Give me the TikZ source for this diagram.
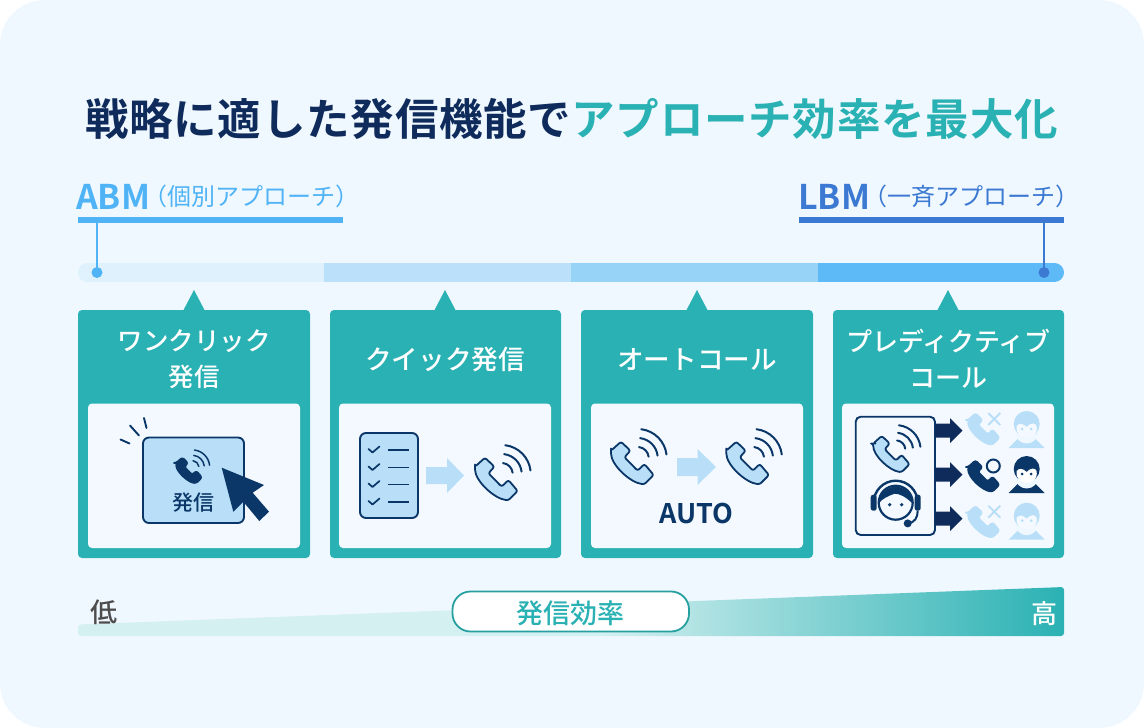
\documentclass[tikz,border=0pt]{standalone}
\usepackage{fontspec}
\setmainfont{Noto Sans CJK JP Medium}
\setsansfont{Noto Sans CJK JP}
\newfontfamily\jpb{Noto Sans CJK JP Bold}
\newfontfamily\jpr{Noto Sans CJK JP}
\definecolor{pagebg}{HTML}{F0F8FF}
\definecolor{teal}{HTML}{2AB1B3}
\definecolor{navy}{HTML}{0B3768}
\definecolor{titlenavy}{HTML}{0F2B5B}
\definecolor{lightblue}{HTML}{B8DFF7}
\definecolor{panelbg}{HTML}{F4F9FF}
\definecolor{abmblue}{HTML}{4FB3F6}
\definecolor{lbmblue}{HTML}{3B79D3}
\definecolor{segA}{HTML}{DFF1FC}
\definecolor{segB}{HTML}{BBE1FA}
\definecolor{segC}{HTML}{97D2F7}
\definecolor{segD}{HTML}{5EBAF6}
\definecolor{wedgelight}{HTML}{D5F0F0}
\definecolor{lowgray}{HTML}{4D4D4D}
\tikzset{
  cardbox/.style={fill=teal,rounded corners=4pt},
  panelbox/.style={fill=panelbg,rounded corners=4pt},
  cardtext/.style={text=white,font=\fontsize{26.6}{36}\selectfont,align=center,inner sep=0pt,anchor=center},
  iconline/.style={navy,line width=1.9pt,line cap=round},
  softarrow/.style={fill=lightblue},
  darkarrow/.style={fill=titlenavy},
  headtext/.style={inner sep=0pt,anchor=base west},
  subtext/.style={font=\jpr\fontsize{24}{28}\selectfont},
  abbr/.style={font=\jpb\fontsize{34}{38}\selectfont},
}
% handset: x, y, scale, fill, stroke
\newcommand\handset[5]{%
  \begin{scope}[shift={(#1,#2)},scale=#3]
    \path[fill=#4,draw=#5,line width=1.8pt,line join=round,rounded corners=2.2pt]
      (-21.7,-12.3) -- (-11.7,-21.3) -- (-2.3,-12.3) -- (-8.3,-5.7) -- (5,7.7) -- (11.7,1) -- (21,12) -- (11.7,21.3)
      .. controls (-2,20) and (-22,2) .. cycle;
  \end{scope}}
% signal waves: x, y, scale, colour, width
\newcommand\callwaves[5]{%
  \begin{scope}[shift={(#1,#2)},scale=#3]
    \foreach \wr in {11,20,29}{
      \draw[#4,line width=#5,line cap=round] ($(5,-5)+(-83:\wr)$) arc[start angle=-83,end angle=-7,radius=\wr];
    }
  \end{scope}}
% person: x, y, hair colour, face colour, eye colour
\newcommand\personicon[5]{%
  \begin{scope}[shift={(#1,#2)}]
    \fill[#3] (-18,18) -- (-8,8) -- (8,8) -- (18,18) -- cycle;
    \fill[pagebg] (0,2) circle[radius=11.5];
    \fill[#3] (0,-6) circle[radius=13];
    \fill[#4] (0,-3) .. controls (5,-8) and (8,-7) .. (10,-4) .. controls (11,5) and (5,8) .. (0,8) .. controls (-5,8) and (-11,5) .. (-10,-4) .. controls (-8,-7) and (-4,-7) .. (0,-3);
    \fill[#5] (-4.5,-1) circle[radius=1.5] (4.5,-1) circle[radius=1.5];
  \end{scope}}
\newcommand\crossmark[3]{%
  \draw[#3,line width=1.9pt] (#1-6,#2-6) -- (#1+6,#2+6) (#1+6,#2-6) -- (#1-6,#2+6);}
\usetikzlibrary{calc}
\begin{document}
\begin{tikzpicture}[x=1pt,y=-1pt]
\useasboundingbox (0,0) rectangle (1144,728);
\fill[white] (0,0) rectangle (1144,728);
\fill[pagebg,rounded corners=45pt] (0,0) rectangle (1144,728);

% title
\node[inner sep=0pt,anchor=base,font=\jpb\fontsize{43.5}{50}\selectfont,text=titlenavy] (title) at (571.5,135)
  {\addfontfeature{LetterSpace=1.8}戦略に適した発信機能で\textcolor{teal}{アプローチ効率を最大化}};

% approach headings
\node[headtext,abbr,text=abmblue] (abm) at (76,209) {ABM};
\node[headtext,subtext,text=abmblue] (abmsub) at (143,205) {（個別アプローチ）};
\node[headtext,abbr,text=lbmblue] (lbm) at (798,209) {LBM};
\node[headtext,subtext,text=lbmblue] (lbmsub) at (863,205) {（一斉アプローチ）};
\fill[abmblue] (78,217) rectangle (343,223);
\fill[lbmblue] (799,217) rectangle (1064,223);

% scale bar
\begin{scope}
  \clip[rounded corners=9.5pt] (78,263) rectangle (1064,282);
  \fill[segA] (78,263) rectangle (324,282);
  \fill[segB] (324,263) rectangle (571,282);
  \fill[segC] (571,263) rectangle (818,282);
  \fill[segD] (818,263) rectangle (1064,282);
\end{scope}
\coordinate (abmtop) at (97,222);
\coordinate (abmdot) at (97,272.5);
\coordinate (lbmtop) at (1044,222);
\coordinate (lbmdot) at (1044,272.5);
\draw[abmblue,line width=1.5pt] (abmtop) -- (abmdot);
\fill[abmblue] (abmdot) circle[radius=5.5];
\draw[lbmblue,line width=1.5pt] (lbmtop) -- (lbmdot);
\fill[lbmblue] (lbmdot) circle[radius=5.5];

% cards
\foreach \xa/\xb/\xm in {78/310/194,330/561/445,581/813/697,833/1064/948}{
  \fill[cardbox] (\xa,310) rectangle (\xb,558);
  \fill[teal] (\xm-11,311) -- (\xm,290) -- (\xm+11,311) -- cycle;
}
\foreach \xa/\xb in {88/300,339/551,591/803,842/1054}{
  \fill[panelbox] (\xa,403.5) rectangle (\xb,548);
}
\node[cardtext,font=\fontsize{25.5}{36}\selectfont] (card1) at (194,359) {ワンクリック\\発信};
\node[cardtext] (card2) at (445,359.5) {クイック発信};
\node[cardtext] (card3) at (697,359.5) {オートコール};
\node[cardtext,font=\fontsize{26}{36}\selectfont] (card4) at (948.5,359) {プレディクティブ\\コール};

% icon 1: dial button
\draw[fill=lightblue,draw=navy,line width=1.9pt,rounded corners=6pt] (143,437.5) rectangle (244,523);
\draw[iconline] (120.5,439.5) -- (129.5,443.5) (130,425.5) -- (139,435.5) (144,418) -- (146.5,428);
\handset{189.3}{470.3}{0.6}{navy}{navy}
\callwaves{189.3}{470.3}{0.6}{navy}{1.5pt}
\node[inner sep=0pt,text=navy,font=\fontsize{21}{24}\selectfont] (dial) at (193.5,503) {発信};
\fill[navy] (221.7,467.7) -- (264,485) -- (252.7,492.7) -- (269,511.7) -- (259.3,521) -- (243.3,501.7) -- (233.3,511.7) -- cycle;

% icon 2: list to call
\draw[fill=lightblue,draw=navy,line width=1.9pt,rounded corners=6pt] (360,433) rectangle (418,518);
\foreach \yy in {450,467.5,484.5,502}{
  \draw[navy,line width=1.7pt,line cap=round,line join=round] (368.5,\yy-1) -- (372.5,\yy+2.5) -- (379.5,\yy-3.5);
  \draw[navy,line width=1.7pt] (388,\yy) -- (409,\yy);
}
\fill[softarrow] (426,467) -- (447,467) -- (447,458) -- (464,475.5) -- (447,493) -- (447,484) -- (426,484) -- cycle;
\handset{496.7}{479}{1}{lightblue}{navy}
\callwaves{496.7}{479}{1}{navy}{2pt}

% icon 3: auto call
\handset{632.7}{463}{1}{lightblue}{navy}
\callwaves{632.7}{463}{1}{navy}{2pt}
\fill[softarrow] (677,458) -- (697.5,458) -- (697.5,449) -- (716,467) -- (697.5,485) -- (697.5,476) -- (677,476) -- cycle;
\handset{748}{463}{1}{lightblue}{navy}
\callwaves{748}{463}{1}{navy}{2pt}
\node[inner sep=0pt,text=navy,font=\jpb\fontsize{27}{30}\selectfont] (auto) at (696.5,513.5) {AUTO};

% icon 4: predictive
\draw[fill=panelbg,draw=navy,line width=1.9pt,rounded corners=5pt] (855.7,416.7) rectangle (935,535);
\handset{891.7}{454}{0.85}{lightblue}{navy}
\callwaves{891.7}{454}{0.85}{navy}{2pt}
\begin{scope}[shift={(895.7,502.7)}]
  \fill[panelbg] (0,0) circle[radius=17];
  \draw[navy,line width=2.2pt] (0,0) circle[radius=17];
  \fill[navy] (-17,1) arc[start angle=-180,end angle=0,radius=17] .. controls (10,-6) and (4,-9) .. (-1,-9) .. controls (-7,-7) and (-14,-4) .. cycle;
  \draw[navy,line width=2.4pt] (-22,0) arc[start angle=-180,end angle=0,radius=22];
  \fill[navy,rounded corners=2.5pt] (-25,-8) rectangle (-19,8);
  \fill[navy,rounded corners=2.5pt] (19,-8) rectangle (25,8);
  \draw[navy,line width=2pt] (22,8) .. controls (22,15) and (19,20) .. (12,20.7);
  \fill[navy] (12,20.7) circle[radius=4];
  \fill[navy] (-6,2) circle[radius=1.8] (6,2) circle[radius=1.8];
\end{scope}
\foreach \yy in {430.7,474.7,518.7}{
  \fill[darkarrow] (935,\yy-7) -- (950,\yy-7) -- (950,\yy-12.5) -- (962.5,\yy) -- (950,\yy+12.5) -- (950,\yy+7) -- (935,\yy+7) -- cycle;
}
\handset{984}{429}{0.73}{lightblue}{lightblue}
\crossmark{994.3}{419}{lightblue}
\handset{984}{476}{0.73}{navy}{navy}
\draw[navy,line width=2pt] (993.3,466) circle[radius=6.5];
\handset{984}{521.7}{0.73}{lightblue}{lightblue}
\crossmark{994.3}{511.7}{lightblue}
\personicon{1026.7}{430}{lightblue}{panelbg}{lightblue}
\personicon{1026.7}{475}{navy}{white}{navy}
\personicon{1026.7}{521.7}{lightblue}{panelbg}{lightblue}

% efficiency wedge
\begin{scope}
  \clip[rounded corners=3pt] (78,624.5) -- (1064,587) -- (1064,636) -- (78,636) -- cycle;
  \fill[wedgelight] (78,585) rectangle (600,637);
  \shade[left color=wedgelight,right color=teal,shading angle=90,draw=none] (600,585) rectangle (1065,637);
\end{scope}
\draw[fill=white,draw=teal!90!black,line width=1.8pt,rounded corners=18pt] (452.5,591.5) rectangle (689,631.5);
\node[inner sep=0pt,text=teal,font=\fontsize{27}{30}\selectfont] (eff) at (570,613) {発信効率};
\node[inner sep=0pt,text=lowgray,font=\fontsize{27}{30}\selectfont] (low) at (104,612) {低};
\node[inner sep=0pt,text=white,font=\fontsize{26}{30}\selectfont] (high) at (1044,614) {高};
\end{tikzpicture}
\end{document}
